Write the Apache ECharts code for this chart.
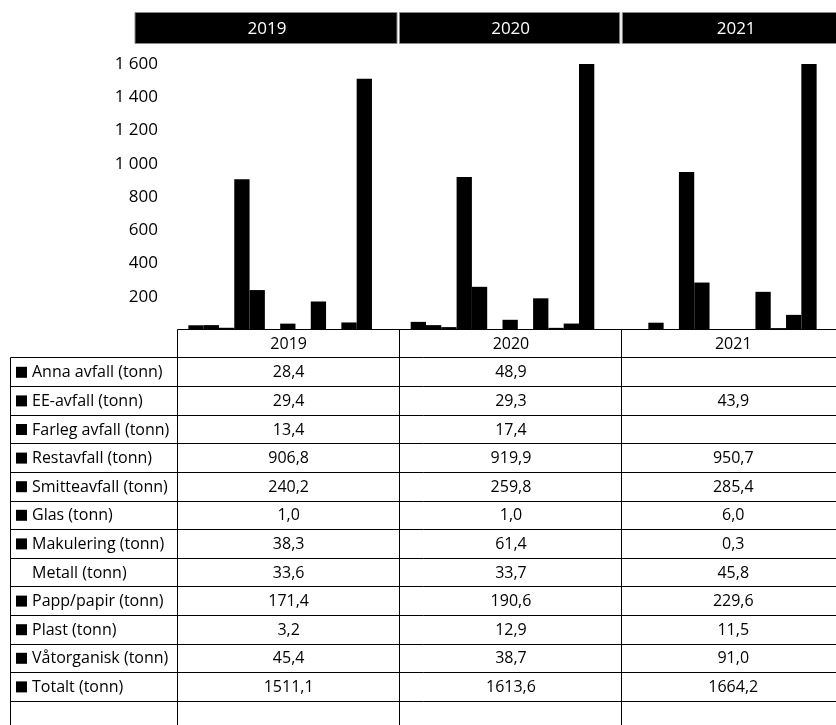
<!DOCTYPE html>
<html>
<head>
<meta charset="utf-8">
<script src="https://cdn.jsdelivr.net/npm/echarts@6/dist/echarts.min.js"></script>
<style>
  html, body { margin: 0; padding: 0; background: #fff; }
  #chart { width: 836px; height: 725px; }
</style>
</head>
<body>
<div id="chart"></div>
<script>
// ---- data ----
const years = ['2019', '2020', '2021'];
const seriesNames = [
  'Anna avfall (tonn)', 'EE-avfall (tonn)', 'Farleg avfall (tonn)', 'Restavfall (tonn)',
  'Smitteavfall (tonn)', 'Glas (tonn)', 'Makulering (tonn)', 'Metall (tonn)',
  'Papp/papir (tonn)', 'Plast (tonn)', 'Våtorganisk (tonn)', 'Totalt (tonn)'
];
const annaAvfall   = [28.4, 48.9, null];
const eeAvfall     = [29.4, 29.3, 43.9];
const farlegAvfall = [13.4, 17.4, null];
const restavfall   = [906.8, 919.9, 950.7];
const smitteavfall = [240.2, 259.8, 285.4];
const glas         = [1.0, 1.0, 6.0];
const makulering   = [38.3, 61.4, 0.3];
const metall       = [33.6, 33.7, 45.8];
const pappPapir    = [171.4, 190.6, 229.6];
const plast        = [3.2, 12.9, 11.5];
const vatorganisk  = [45.4, 38.7, 91.0];
const totalt       = [1511.1, 1613.6, 1664.2];
const yTicks = [200, 400, 600, 800, 1000, 1200, 1400, 1600];

const seriesValues = [annaAvfall, eeAvfall, farlegAvfall, restavfall, smitteavfall, glas,
  makulering, metall, pappPapir, plast, vatorganisk, totalt];

// ---- styling / layout ----
const FONT = 'Open Sans';
const noFillSeries = { 'Metall (tonn)': true };

const chart = echarts.init(document.getElementById('chart'), null, { renderer: 'canvas' });

function fmtVal(v) { return v == null ? '' : v.toFixed(1).replace('.', ','); }
function fmtTick(v) {
  if (v === 0) return '';
  const s = String(v);
  return s.length > 3 ? s.slice(0, s.length - 3) + ' ' + s.slice(-3) : s;
}

const series = seriesNames.map((name, i) => ({
  name: name,
  type: 'bar',
  data: seriesValues[i],
  barWidth: 15.3,
  barGap: '0%',
  clip: true,
  itemStyle: { color: noFillSeries[name] ? 'rgba(0,0,0,0)' : '#000' },
  emphasis: { disabled: true },
  animation: false
}));

// table layout
const tableTop = 329.5, headerBottom = 357.5, rowH = 28.6;
const labelLeft = 10.5, colLeft = 177.5, colW = 222.3;
const colEdges = [colLeft, colLeft + colW, colLeft + 2 * colW, colLeft + 3 * colW];
const graphics = [];

// header bars
const headerRects = [[135, 397], [399.5, 619.7], [622.3, 848]];
years.forEach((y, i) => {
  const [x0, x1] = headerRects[i];
  graphics.push({ type: 'rect', shape: { x: x0, y: 12.5, width: x1 - x0, height: 31 },
    style: { fill: '#000', stroke: '#8a8a8a', lineWidth: 1 }, silent: true });
  graphics.push({ type: 'text', x: (x0 + x1) / 2 + 1, y: 29,
    style: { text: y, fill: '#fff', font: '17px "' + FONT + '"', textAlign: 'center', textVerticalAlign: 'middle' }, silent: true });
});

function hline(x0, x1, y) {
  graphics.push({ type: 'line', shape: { x1: x0, y1: y, x2: x1, y2: y }, style: { stroke: '#000', lineWidth: 1 }, silent: true });
}
function vline(x, y0, y1) {
  graphics.push({ type: 'line', shape: { x1: x, y1: y0, x2: x, y2: y1 }, style: { stroke: '#000', lineWidth: 1 }, silent: true });
}

// table lines
hline(colLeft, 840, tableTop);
hline(labelLeft, 840, headerBottom);
for (let r = 1; r <= seriesNames.length; r++) hline(labelLeft, 840, Math.round(headerBottom + r * rowH) + 0.5);
vline(labelLeft, headerBottom, 730);
colEdges.slice(0, 3).forEach(x => vline(Math.round(x) - 0.5, tableTop, 730));

// table header row
years.forEach((y, c) => {
  graphics.push({ type: 'text', x: colEdges[c] + colW / 2, y: (tableTop + headerBottom) / 2 + 1,
    style: { text: y, fill: '#000', font: '16px "' + FONT + '"', textAlign: 'center', textVerticalAlign: 'middle' }, silent: true });
});

// table rows
seriesNames.forEach((name, r) => {
  const cy = headerBottom + r * rowH + rowH / 2 + 1;
  if (!noFillSeries[name]) {
    graphics.push({ type: 'rect', shape: { x: 16, y: cy - 6, width: 11, height: 11 }, style: { fill: '#000' }, silent: true });
  }
  graphics.push({ type: 'text', x: 32, y: cy,
    style: { text: name, fill: '#000', font: '16px "' + FONT + '"', textAlign: 'left', textVerticalAlign: 'middle' }, silent: true });
  seriesValues[r].forEach((v, c) => {
    graphics.push({ type: 'text', x: colEdges[c] + colW / 2, y: cy,
      style: { text: fmtVal(v), fill: '#000', font: '16px "' + FONT + '"', textAlign: 'center', textVerticalAlign: 'middle' }, silent: true });
  });
});

chart.setOption({
  animation: false,
  backgroundColor: '#fff',
  grid: { left: 169, top: 64, width: 668, height: 266, containLabel: false },
  xAxis: {
    type: 'category', data: years,
    axisLine: { show: false }, axisTick: { show: false }, axisLabel: { show: false }, splitLine: { show: false }
  },
  yAxis: {
    type: 'value', min: 0, max: yTicks[yTicks.length - 1], interval: yTicks[1] - yTicks[0],
    axisLine: { show: false }, axisTick: { show: false }, splitLine: { show: false },
    axisLabel: { formatter: fmtTick, color: '#000', fontFamily: FONT, fontSize: 17, margin: 11 }
  },
  series: series,
  graphic: graphics
});
</script>
</body>
</html>
